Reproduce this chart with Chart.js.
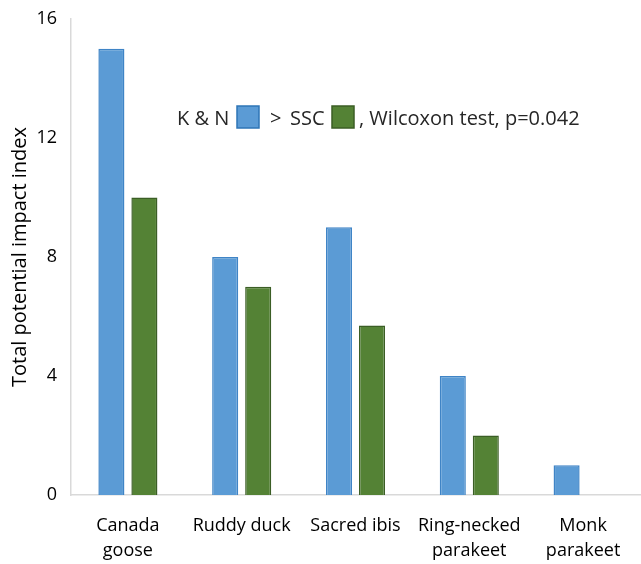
<!DOCTYPE html>
<html>
<head>
<meta charset="utf-8">
<script src="https://cdn.jsdelivr.net/npm/chart.js@4"></script>
<style>
  html, body { margin: 0; padding: 0; background: #fff; }
  #wrap { width: 641px; height: 564px; position: relative; }
</style>
</head>
<body>
<div id="wrap"><canvas id="impactChart"></canvas></div>
<script>
const categories = [["Canada", "goose"], "Ruddy duck", "Sacred ibis", ["Ring-necked", "parakeet"], ["Monk", "parakeet"]];
const knValues = [15, 8, 9, 4, 1];   // K & N (blue)
const sscValues = [10, 7, 5.7, 2, 0]; // SSC (green)
const yTicks = [0, 4, 8, 12, 16];

const FONT = "'Open Sans', sans-serif";

// draws the inline "K & N [] > SSC [] , Wilcoxon test..." note
const notePlugin = {
  id: "note",
  afterDraw(chart) {
    const ctx = chart.ctx;
    ctx.save();
    ctx.font = "20px " + FONT;
    ctx.fillStyle = "#262626";
    ctx.textBaseline = "middle";
    const y = 119;
    ctx.fillText("K & N", 177, y);
    ctx.fillText(">", 270, y);
    ctx.fillText("SSC", 290, y);
    ctx.fillText(", Wilcoxon test, p=0.042", 359, y);
    // swatches
    ctx.lineWidth = 1.5;
    ctx.fillStyle = "#5b9bd5";
    ctx.strokeStyle = "#2e75b6";
    ctx.fillRect(237, 106, 22, 22);
    ctx.strokeRect(237, 106, 22, 22);
    ctx.fillStyle = "#548235";
    ctx.strokeStyle = "#3b5e25";
    ctx.fillRect(332, 106, 22, 22);
    ctx.strokeRect(332, 106, 22, 22);
    ctx.restore();
  },
};

document.addEventListener("DOMContentLoaded", () => {
  const ctx = document.getElementById("impactChart").getContext("2d");

  new Chart(ctx, {
    type: "bar",
    data: {
      labels: categories,
      datasets: [
        {
          label: "K & N",
          data: knValues,
          backgroundColor: "#5b9bd5",
          borderColor: "#3f84c6",
          borderWidth: 1.5,
        },
        {
          label: "SSC",
          data: sscValues,
          backgroundColor: "#548235",
          borderColor: "#3b5e25",
          borderWidth: 1.5,
        },
      ],
    },
    options: {
      responsive: true,
      maintainAspectRatio: false,
      animation: false,
      layout: { padding: { top: 0, right: 1, left: 0, bottom: 0 } },
      datasets: {
        bar: { barPercentage: 0.79, categoryPercentage: 0.58 },
      },
      plugins: {
        legend: { display: false },
        tooltip: { enabled: false },
      },
      scales: {
        x: {
          grid: { display: false, drawTicks: false },
          border: { display: true, color: "#d9d9d9", width: 1.5 },
          ticks: {
            color: "#000",
            font: { family: FONT, size: 18, lineHeight: 1.4 },
            padding: 18,
            maxRotation: 0,
            autoSkip: false,
          },
          afterFit(scale) { scale.height = 69; },
        },
        y: {
          min: 0,
          max: 16,
          grid: { display: false, drawTicks: false },
          border: { display: true, color: "#d9d9d9", width: 1.5 },
          afterBuildTicks(scale) { scale.ticks = yTicks.map(v => ({ value: v })); },
          ticks: {
            color: "#000",
            font: { family: FONT, size: 18 },
            padding: 14,
          },
          title: {
            display: true,
            text: "Total potential impact index",
            color: "#000",
            font: { family: FONT, size: 20 },
            padding: { top: 8, bottom: 0 },
          },
          afterFit(scale) {
            scale.width = 71;
            scale.paddingTop = 19;
          },
        },
      },
    },
    plugins: [notePlugin],
  });
});
</script>
</body>
</html>
